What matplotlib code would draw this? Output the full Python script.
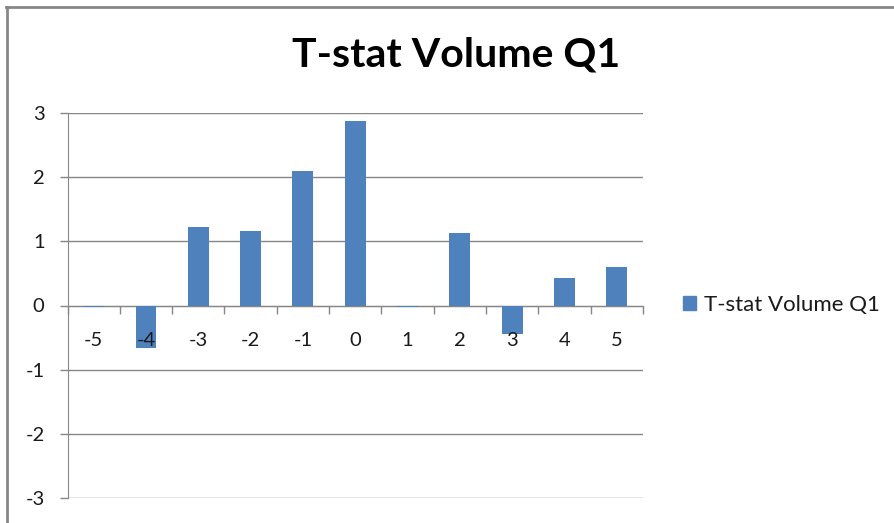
import matplotlib
matplotlib.use("Agg")
import matplotlib.pyplot as plt
from matplotlib.patches import Patch
from matplotlib.lines import Line2D
import numpy as np

categories = ["-5", "-4", "-3", "-2", "-1", "0", "1", "2", "3", "4", "5"]
values = [-0.03, -0.66, 1.22, 1.16, 2.10, 2.87, -0.03, 1.13, -0.45, 0.43, 0.60]
series_name = "T-stat Volume Q1"
title = "T-stat Volume Q1"
yticks = [-3, -2, -1, 0, 1, 2, 3]

W, H = 895, 523
plt.rcParams['font.family'] = ['Lato', 'DejaVu Sans']
fig = plt.figure(figsize=(W / 100, H / 100), dpi=100)
fig.patch.set_facecolor("white")

L, R, T, B = 67.5, 643, 113, 498
ax = fig.add_axes([L / W, 1 - B / H, (R - L) / W, (B - T) / H])

bar_color = "#4F81BD"
grid_color = "#868686"
x = np.arange(len(categories))
ax.bar(x, values, width=0.4, color=bar_color, zorder=1)

ax.set_xlim(-0.5, len(categories) - 0.5)
ax.set_ylim(-3, 3)

# y axis
ax.set_yticks(yticks)
ax.set_yticklabels([str(v) for v in yticks])
ax.yaxis.grid(True, color=grid_color, linewidth=1.0)
ax.set_axisbelow(True)
ax.tick_params(axis="y", direction="out", length=5.5, width=1.0, color=grid_color,
               labelsize=14.5, labelcolor="#1a1a1a", pad=11)

# x axis at zero
ax.spines["bottom"].set_position(("data", 0))
ax.spines["bottom"].set_color(grid_color)
ax.spines["bottom"].set_zorder(0.8)
ax.spines["left"].set_color(grid_color)
ax.spines["top"].set_visible(False)
ax.spines["right"].set_visible(False)
ax.set_xticks(np.arange(len(categories) + 1) - 0.5)
ax.set_xticklabels([])
ax.set_xticks(x, minor=True)
ax.set_xticklabels(categories, minor=True)
ax.tick_params(axis="x", which="major", direction="out", length=5.5, width=1.0, color=grid_color)
ax.tick_params(axis="x", which="minor", length=0, labelsize=14.5, labelcolor="#1a1a1a", pad=19)
ax.xaxis.set_zorder(3)

# title
fig.text(456 / W, 1 - 67 / H, title, ha="center", va="baseline",
         fontsize=29.5, fontweight="bold", color="black")

# legend
handle = Patch(facecolor=bar_color, edgecolor=bar_color)
fig.legend([handle], [series_name], loc="center left",
           bbox_to_anchor=(683 / W, 1 - 305 / H), frameon=False,
           borderpad=0, borderaxespad=0, handlelength=0.6, handleheight=0.6,
           handletextpad=0.35, fontsize=16, labelcolor="#1a1a1a")

# chart frame (top and left edges)
fig.add_artist(Line2D([7.5 / W, 7.5 / W], [0, 1 - 6.5 / H], transform=fig.transFigure,
                      color="#868686", linewidth=2))
fig.add_artist(Line2D([6.5 / W, 895 / W], [1 - 6.5 / H, 1 - 6.5 / H], transform=fig.transFigure,
                      color="#868686", linewidth=2))

fig.savefig("out.png", dpi=100, facecolor="white")
